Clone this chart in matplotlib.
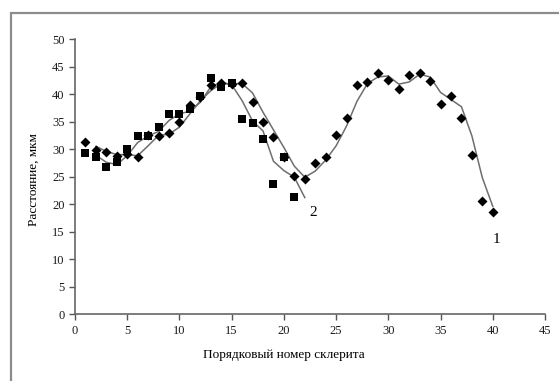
"""Distance vs sclerite number, two series with moving-average trend lines."""

import matplotlib

matplotlib.use("Agg")
import matplotlib.pyplot as plt
from matplotlib.patches import Rectangle

# series 1 (diamonds), sclerites 1..40
x1 = list(range(1, 41))
y1 = [31.3, 29.8, 29.4, 28.7, 29.2, 28.5, 32.6, 32.4, 33.0, 34.9,
      38.0, 39.5, 41.7, 42.0, 41.8, 42.0, 38.5, 34.9, 32.2, 28.5,
      25.2, 24.6, 27.4, 28.5, 32.6, 35.7, 41.6, 42.2, 43.9, 42.6,
      41.0, 43.4, 43.8, 42.4, 38.2, 39.7, 35.7, 29.0, 20.6, 18.5]

# series 2 (squares), sclerites 1..21
x2 = list(range(1, 22))
y2 = [29.3, 28.5, 26.7, 27.6, 30.0, 32.4, 32.4, 34.0, 36.4, 36.4,
      37.3, 39.6, 42.9, 41.3, 42.0, 35.5, 34.7, 31.9, 23.7, 28.5, 21.3]

# trend lines
t1_x = list(range(2, 41))
t1_y = [30.5, 29.6, 29.0, 29.0, 28.8, 30.6, 32.5, 32.7, 34.0, 36.4,
        38.8, 40.6, 41.9, 41.9, 41.9, 40.2, 36.7, 33.5, 30.3, 26.9,
        24.9, 26.0, 28.0, 30.6, 34.2, 38.7, 41.9, 43.1, 43.3, 41.8,
        42.2, 43.6, 43.1, 40.3, 39.0, 37.7, 32.4, 24.8, 19.6]
t2_x = list(range(2, 23))
t2_y = [28.9, 27.6, 27.2, 28.8, 31.2, 32.4, 33.2, 35.2, 36.4, 36.9,
        38.5, 41.3, 42.1, 41.7, 38.8, 35.1, 33.3, 27.8, 26.1, 24.9, 21.2]

xticks = list(range(0, 50, 5))
yticks = list(range(0, 55, 5))

plt.rcParams["font.family"] = ["Liberation Serif", "DejaVu Serif"]

fig = plt.figure(figsize=(5.59, 3.81), dpi=100)
fig.patches.append(Rectangle((11 / 559, -0.1), 1.2, 1 - 13 / 381 + 0.1,
                             transform=fig.transFigure, fill=False,
                             edgecolor="#8c8c8c", linewidth=1.6))
ax = fig.add_axes([75 / 559, 66.7 / 381, 470 / 559, 275.3 / 381])

line_col = "#6e6e6e"
ax.plot(t1_x, t1_y, color=line_col, linewidth=1.1, zorder=2)
ax.plot(t2_x, t2_y, color=line_col, linewidth=1.1, zorder=2)
ax.scatter(x2, y2, marker="s", s=36, color="black", zorder=3, linewidths=0)
ax.scatter(x1, y1, marker="D", s=26, color="black", zorder=4, linewidths=0)

ax.text(40.35, 13.5, "1", fontsize=11, ha="center", va="center")
ax.text(22.8, 18.4, "2", fontsize=11, ha="center", va="center")

ax.set_xlim(0, 45)
ax.set_ylim(0, 50)
ax.set_xticks(xticks)
ax.set_yticks(yticks)
ax.tick_params(direction="out", length=4, width=1, colors="#555555",
               labelcolor="#1a1a1a", labelsize=9)
for side in ("top", "right"):
    ax.spines[side].set_visible(False)
for side in ("left", "bottom"):
    ax.spines[side].set_color("#666666")
    ax.spines[side].set_linewidth(1.2)

ax.set_xlabel("Порядковый номер склерита", fontsize=9.5)
ax.xaxis.set_label_coords(0.445, -0.125)
ax.set_ylabel("Расстояние, мкм", fontsize=9.5)
ax.yaxis.set_label_coords(-0.075, 0.49)

fig.savefig("out.png", dpi=100)
